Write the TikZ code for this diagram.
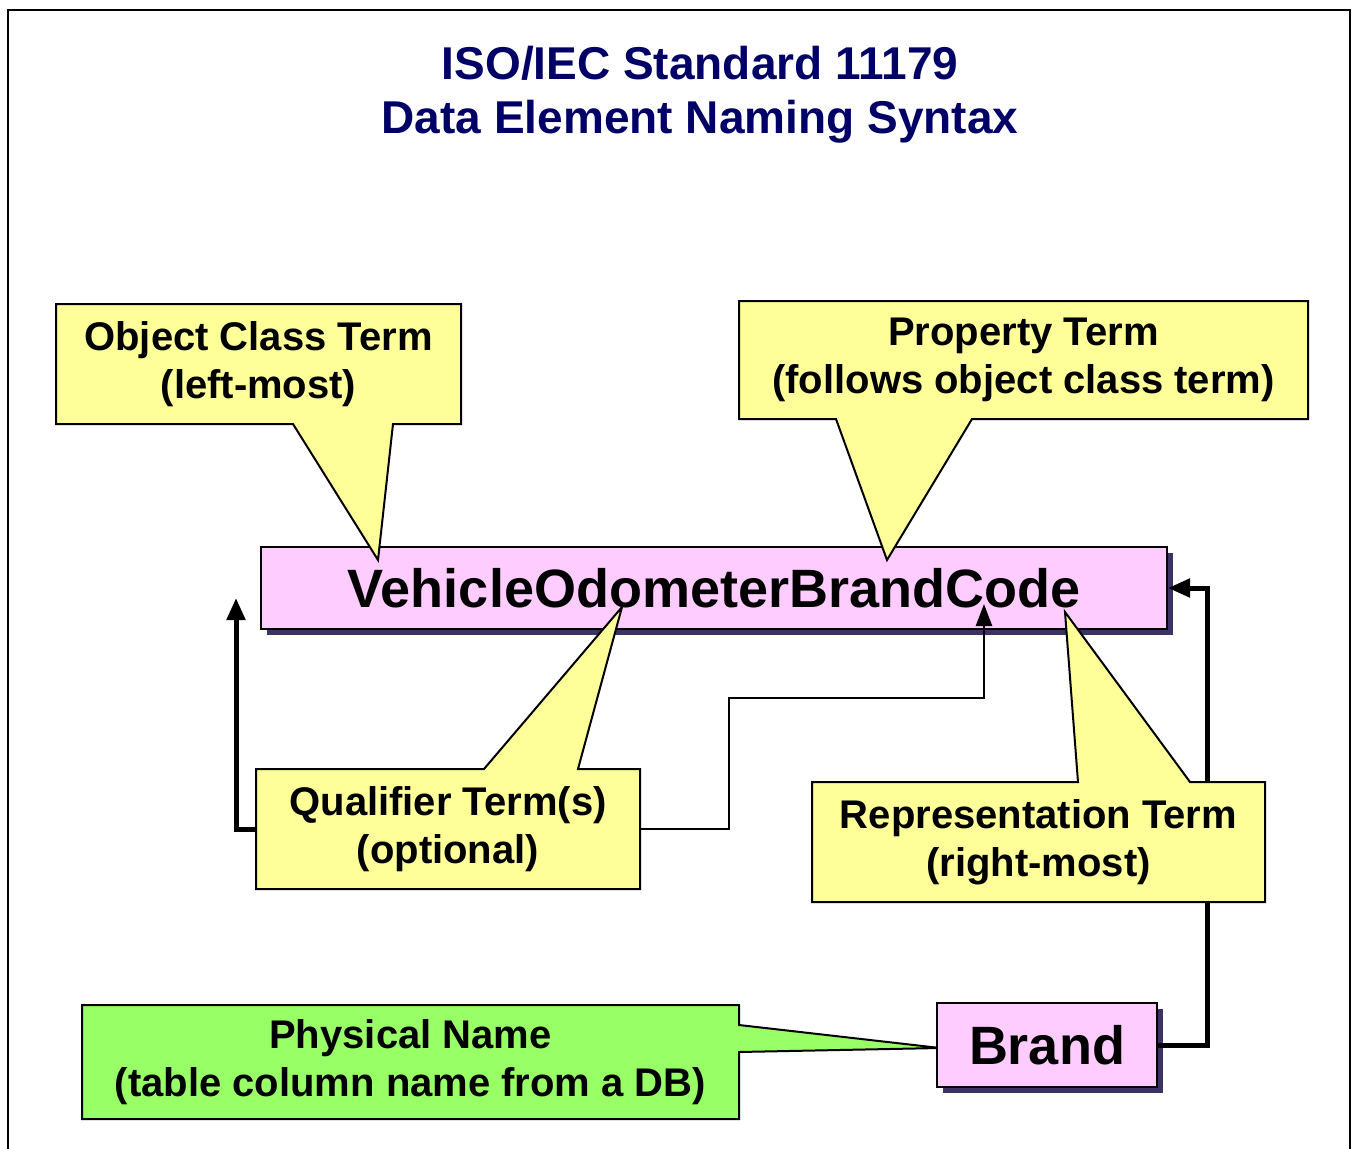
\documentclass[tikz,border=0pt]{standalone}
\usepackage{fontspec}
\setmainfont{Liberation Sans}
\usetikzlibrary{arrows.meta,shadows}

\definecolor{termyellow}{RGB}{255,255,153}
\definecolor{namepink}{RGB}{255,204,255}
\definecolor{physgreen}{RGB}{153,255,102}
\definecolor{titleblue}{RGB}{0,0,102}
\definecolor{shadowblue}{RGB}{60,50,100}

\tikzset{
  callout/.style={fill=termyellow, draw=black, line width=2pt},
  termtext/.style={align=center, inner sep=0pt, font=\fontsize{40}{48}\selectfont\bfseries},
  namebox/.style={fill=namepink, draw=black, line width=2pt, inner sep=0pt,
    font=\fontsize{54}{60}\selectfont\bfseries,
    drop shadow={shadow xshift=6pt, shadow yshift=-6pt, fill=shadowblue, opacity=1}},
  bigarrow/.style={line width=5pt, -{Triangle[length=22pt,width=18pt]}},
  thinarrow/.style={line width=2.5pt, -{Triangle[length=22pt,width=16pt]}},
}

\begin{document}
\begin{tikzpicture}[x=1pt, y=-1pt]
\useasboundingbox (0,0) rectangle (1353,1149);
\draw[line width=2.5pt] (8,1170) |- (1350,10) -- (1350,1170);

% title
\node[align=center, text=titleblue, font=\fontsize{46}{54}\selectfont\bfseries] (title) at (700,95)
  {ISO/IEC Standard 11179\\Data Element Naming Syntax};

% the data element name
\node[namebox, minimum width=906pt, minimum height=82pt] (dename) at (714,588) {VehicleOdometerBrandCode};

% physical name
\draw[callout, fill=physgreen] (82,1005) -- (739,1005) -- (739,1025) -- (940,1048) -- (739,1052) -- (739,1119) -- (82,1119) -- cycle;
\node[termtext] (physname) at (410.5,1062) {Physical Name\\(table column name from a DB)};
\node[namebox, minimum width=220pt, minimum height=84pt] (brand) at (1047,1045) {Brand};

% qualifier
\draw[callout] (256,769) -- (484,769) -- (622,607) -- (578,769) -- (640,769) -- (640,889) -- (256,889) -- cycle;
\node[termtext, minimum width=384pt, minimum height=120pt] (qualifier) at (448,829) {Qualifier Term(s)\\(optional)};

% connectors
\coordinate (uptip) at (236,598);
\coordinate (codetip) at (984,604);
\draw[bigarrow] (qualifier.west) -| (uptip);
\draw[thinarrow] (qualifier.east) -| (729,698) -| (codetip);
\draw[bigarrow] (brand.east) -| (1207,588) -- (dename.east);

% object class term
\draw[callout] (56,304) -- (461,304) -- (461,424) -- (393,424) -- (378,560) -- (293,424) -- (56,424) -- cycle;
\node[termtext] (objclass) at (258.5,364) {Object Class Term\\(left-most)};

% property term
\draw[callout] (739,301) -- (1308,301) -- (1308,419) -- (972,419) -- (887,560) -- (836,419) -- (739,419) -- cycle;
\node[termtext] (property) at (1023.5,360) {Property Term\\(follows object class term)};

% representation term
\draw[callout] (812,782) -- (1078,782) -- (1065,612) -- (1190,782) -- (1265,782) -- (1265,902) -- (812,902) -- cycle;
\node[termtext] (represent) at (1038.5,842) {Representation Term\\(right-most)};
\end{tikzpicture}
\end{document}
